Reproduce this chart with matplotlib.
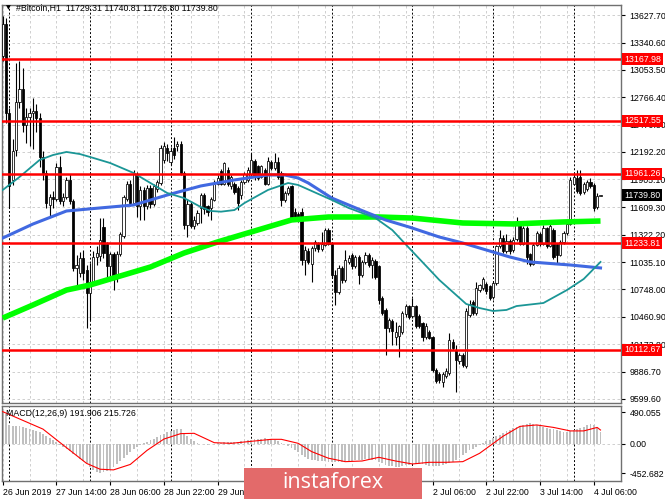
import matplotlib
matplotlib.use("Agg")
import matplotlib.pyplot as plt
import matplotlib.transforms as mtransforms
from matplotlib.patches import Rectangle

plt.rcParams["font.family"] = ["Liberation Sans", "DejaVu Sans"]

# hourly candles, 26 Jun 22:00 .. 4 Jul 08:00
opens = [13200, 13540, 12600, 11900, 12210, 12720, 12850, 12480, 12560, 12600,
         12620, 12550, 12140, 11970, 11640, 11720, 11700, 12030, 11680, 11720,
         11900, 11680, 10970, 10920, 11080, 10950, 10710, 10830, 11090, 11100,
         11400, 11230, 10990, 11120, 10870, 11120, 11310, 11700, 11860, 11660,
         11950, 11620, 11790, 11620, 11810, 11650, 11800, 11870, 12110, 12230,
         12090, 12230, 12250, 12280, 11970, 11430, 11650, 11410, 11450, 11600,
         11740, 11620, 11600, 11690, 11860, 11990, 11860, 12000, 11830, 11860,
         11810, 11740, 11880, 11900, 11960, 12100, 12040, 11930, 12000, 11860,
         12090, 12020, 12090, 11970, 11690, 11760, 11830, 11560, 11540, 11560,
         11060, 11150, 11020, 11180, 11230, 11170, 11220, 11370, 11230, 10900,
         10720, 10970, 10850, 11040, 11110, 10990, 11090, 10900, 11040, 11110,
         11000, 11050, 10990, 10660, 10530, 10340, 10420, 10250, 10260, 10300,
         10490, 10570, 10470, 10570, 10470, 10400, 10250, 10300, 10250, 9900,
         9860, 9780, 9840, 9870, 10200, 10110, 10000, 10060, 9940, 10480,
         10620, 10500, 10740, 10760, 10810, 10780, 10670, 10820, 11200, 11290,
         11150, 11260, 11160, 11280, 11420, 11230, 11390, 11120, 11020, 11220,
         11330, 11230, 11390, 11200, 11370, 11230, 11110, 11250, 11340, 11440,
         11860, 11920, 11930, 11770, 11800, 11880, 11850, 11610, 11729.31]
highs = [13620, 13600, 12650, 12330, 13130, 13150, 13070, 12650, 12650, 12760,
         12700, 12600, 12200, 12000, 11750, 11780, 12080, 12150, 11760, 11930,
         11960, 11700, 11110, 11140, 11160, 11000, 11030, 11150, 11200, 11500,
         11500, 11250, 11140, 11140, 11150, 11350, 11740, 11890, 11900, 12000,
         11980, 11830, 11820, 11840, 11840, 11860, 11900, 12270, 12300, 12280,
         12240, 12350, 12310, 12310, 11990, 11700, 11680, 11520, 11580, 11760,
         11760, 11640, 11720, 11900, 11950, 12010, 12090, 12030, 11950, 11880,
         11830, 11900, 11980, 12030, 12180, 12120, 12060, 12060, 12020, 12140,
         12110, 12178, 12140, 11990, 11780, 11830, 11850, 11600, 11560, 11600,
         11200, 11180, 11200, 11270, 11250, 11350, 11390, 11390, 11250, 10950,
         11000, 10990, 11160, 11110, 11130, 11110, 11110, 11060, 11145, 11130,
         11090, 11070, 11000, 10680, 10550, 10450, 10440, 10410, 10380, 10520,
         10600, 10590, 10655, 10590, 10490, 10410, 10400, 10320, 10260, 9920,
         9880, 9880, 9920, 10290, 10230, 10170, 10080, 10080, 10550, 10640,
         10640, 10830, 10810, 10880, 10830, 10790, 10840, 11220, 11370, 11320,
         11330, 11280, 11300, 11510, 11440, 11410, 11410, 11130, 11240, 11360,
         11350, 11430, 11400, 11440, 11390, 11240, 11270, 11360, 11460, 11930,
         11960, 12000, 12000, 11880, 11900, 11920, 11870, 11760, 11740.81]
lows = [13150, 12500, 11600, 11850, 12150, 12650, 12400, 12290, 12250, 12220,
        12400, 12030, 11900, 11600, 11510, 11600, 11680, 11650, 11620, 11700,
        11650, 10940, 10800, 10880, 10850, 10345, 10430, 10800, 11000, 11050,
        11080, 10880, 10890, 10740, 10830, 11100, 11290, 11680, 11620, 11640,
        11510, 11480, 11480, 11590, 11600, 11620, 11770, 11840, 12080, 12100,
        12050, 12120, 12200, 11950, 11380, 11300, 11390, 11380, 11420, 11450,
        11540, 11520, 11477, 11680, 11840, 11840, 11840, 11830, 11800, 11750,
        11580, 11700, 11860, 11880, 11940, 11900, 11900, 11920, 11840, 11840,
        12000, 12000, 11910, 11620, 11670, 11740, 11490, 11470, 11460, 11000,
        10900, 11020, 10830, 11150, 11140, 11150, 11200, 11210, 10870, 10590,
        10700, 10820, 10830, 11020, 10960, 10970, 10810, 10880, 11020, 10980,
        10870, 10860, 10600, 10480, 10060, 10300, 10160, 10160, 10040, 10280,
        10460, 10440, 10450, 10340, 10340, 10210, 10230, 10230, 9880, 9770,
        9770, 9727, 9820, 9850, 10110, 9675, 9970, 9930, 9920, 10460,
        10480, 10480, 10720, 10740, 10700, 10637, 10650, 10800, 11180, 11130,
        11130, 11120, 11140, 11260, 11210, 11220, 11020, 10990, 11000, 11200,
        11200, 11210, 11180, 11190, 11070, 11020, 11100, 11230, 11320, 11420,
        11840, 11760, 11740, 11750, 11780, 11810, 11570, 11590, 11726.80]
closes = [13540, 12600, 11830, 12200, 12720, 12850, 12480, 12560, 12600, 12620,
          12550, 12140, 11970, 11660, 11720, 11700, 12030, 11680, 11720, 11900,
          11680, 10970, 11000, 11080, 10920, 10710, 10830, 11090, 11130, 11270,
          11130, 10990, 11120, 10870, 11120, 11330, 11720, 11860, 11660, 11960,
          11620, 11790, 11620, 11810, 11650, 11830, 11880, 12230, 12250, 12180,
          12200, 12160, 12280, 11970, 11430, 11650, 11410, 11480, 11550, 11740,
          11590, 11560, 11700, 11860, 11920, 11860, 12080, 11860, 11930, 11770,
          11660, 11880, 11960, 12000, 12110, 11930, 11920, 12040, 11860, 12100,
          12020, 12090, 11930, 11690, 11760, 11810, 11510, 11500, 11490, 11060,
          11160, 11040, 11180, 11250, 11170, 11230, 11370, 11230, 10900, 10720,
          10970, 10850, 11060, 11080, 10990, 11090, 10900, 11040, 11110, 11000,
          11060, 10880, 10640, 10500, 10340, 10430, 10310, 10300, 10360, 10500,
          10570, 10460, 10570, 10360, 10360, 10250, 10360, 10240, 9900, 9790,
          9800, 9860, 9890, 10220, 10130, 10010, 10060, 9960, 10520, 10600,
          10500, 10760, 10790, 10860, 10730, 10660, 10820, 11200, 11290, 11150,
          11260, 11150, 11270, 11440, 11230, 11390, 11090, 11020, 11220, 11340,
          11230, 11390, 11200, 11410, 11090, 11110, 11250, 11340, 11440, 11900,
          11930, 11780, 11760, 11860, 11880, 11830, 11600, 11730, 11739.80]

# moving averages read at a few candles
ma_teal_idx = [0, 5, 11, 15, 19, 23, 27, 32, 39, 49, 54, 59, 62, 65, 69, 72, 79,
               85, 88, 98, 103, 111, 116, 121, 130, 138, 142, 146, 150, 153, 161,
               168, 173, 178]
ma_teal = [11792, 11929, 12108, 12160, 12192, 12170, 12129, 12076, 11971, 11761,
           11708, 11614, 11572, 11565, 11582, 11656, 11793, 11866, 11845, 11688,
           11604, 11498, 11372, 11184, 10848, 10596, 10553, 10522, 10533, 10574,
           10606, 10742, 10858, 11037]
ma_blue_idx = [0, 9, 19, 29, 39, 49, 59, 69, 79, 84, 88, 91, 98, 108, 114, 121,
               130, 137, 151, 157, 169, 178]
ma_blue = [11288, 11435, 11572, 11604, 11635, 11740, 11835, 11898, 11950, 11950,
           11918, 11866, 11708, 11562, 11478, 11404, 11299, 11236, 11089, 11037,
           11005, 10974]
ma_green_idx = [0, 9, 19, 26, 34, 44, 54, 64, 74, 86, 97, 112, 122, 137, 152, 167, 178]
ma_green = [10448, 10585, 10742, 10795, 10879, 10984, 11131, 11247, 11352, 11478,
            11509, 11509, 11498, 11446, 11436, 11457, 11467]

levels = [13167.98, 12517.55, 11961.26, 11233.81, 10112.67]
price_ticks = [13627.70, 13340.60, 13053.50, 12766.40, 12479.30, 12192.20, 11905.10,
               11609.30, 11322.20, 11035.10, 10748.00, 10460.90, 10173.80, 9886.70, 9599.60]

macd_hist = [490, 460, 300, 285, 280, 275, 265, 250, 235, 220,
             205, 185, 160, 130, 95, 60, 25, -15, -50, -85,
             -115, -150, -190, -230, -260, -300, -350, -400, -440, -452,
             -440, -420, -390, -350, -310, -265, -220, -170, -125, -85,
             -50, -20, 10, 35, 55, 80, 105, 135, 160, 180,
             200, 215, 225, 230, 170, 120, 70, 40, 15, 5,
             -5, -10, -5, 5, 15, 20, 25, 25, 30, 30,
             35, 40, 45, 55, 60, 70, 75, 80, 85, 80,
             70, 55, 40, 20, 0, -30, -60, -90, -130, -170,
             -200, -225, -240, -250, -258, -262, -265, -280, -285, -285,
             -280, -275, -270, -265, -258, -250, -245, -240, -238, -235,
             -240, -255, -275, -300, -320, -335, -345, -350, -348, -340,
             -330, -318, -310, -305, -310, -315, -330, -340, -345, -345,
             -340, -330, -315, -300, -280, -250, -215, -175, -135, -100,
             -70, -40, -10, 15, 40, 65, 95, 120, 145, 170,
             195, 220, 240, 260, 280, 300, 315, 320, 305, 290,
             275, 262, 250, 238, 225, 212, 200, 190, 185, 195,
             210, 230, 250, 270, 290, 305, 290, 250, 191.906]
signal_idx = [0, 12, 18, 25, 29, 33, 38, 43, 48, 53, 57, 63, 68, 73, 80, 83, 88,
              92, 97, 102, 107, 112, 117, 122, 127, 132, 137, 142, 149, 154, 159,
              164, 169, 173, 177, 178]
signal = [500, 230, -16, -300, -390, -400, -316, -98, 76, 160, 165, 20, 10, 36, 72,
          72, 10, -118, -220, -273, -263, -206, -263, -309, -283, -283, -273, -144,
          120, 272, 294, 256, 202, 202, 256, 215.726]

date_idx = list(range(0, 177, 16))
date_labels = ["26 Jun 2019", "27 Jun 14:00", "28 Jun 06:00", "28 Jun 22:00",
               "29 Jun 14:00", "30 Jun 06:00", "30 Jun 22:00", "1 Jul 14:00",
               "2 Jul 06:00", "2 Jul 22:00", "3 Jul 14:00", "4 Jul 06:00"]
day_sep_idx = list(range(2, 180, 24))

W, H = 665, 499
fs = 6.3
fig = plt.figure(figsize=(W / 100, H / 100), dpi=100)
fig.patch.set_facecolor("white")

ax = fig.add_axes([2 / W, 1 - 403 / H, 619 / W, 398 / H])
ax2 = fig.add_axes([2 / W, 1 - 481 / H, 619 / W, 75 / H])

xlim = (-0.2, 184.1)
grid_kw = dict(color="#c8c8c8", linewidth=0.6, linestyle=(0, (3, 3)), zorder=0)
for a in (ax, ax2):
    a.set_xlim(*xlim)
    for g in range(0, 185, 8):
        a.axvline(g, **grid_kw)
    for d in day_sep_idx:
        a.axvline(d, color="black", linewidth=0.7, linestyle=(0, (2, 2)), zorder=1)
    for s in a.spines.values():
        s.set_color("#707070")
        s.set_linewidth(1)

# candles
idx = list(range(len(closes)))
ax.vlines(idx, lows, highs, color="black", linewidth=0.8, zorder=3)
up = [c >= o for o, c in zip(opens, closes)]
bottoms = [min(o, c) for o, c in zip(opens, closes)]
heights = [max(abs(c - o), 8) for o, c in zip(opens, closes)]
ax.bar(idx, heights, bottom=bottoms, width=0.66,
       color=["white" if u else "black" for u in up],
       edgecolor="black", linewidth=0.55, zorder=4)

# moving averages
ax.plot(ma_green_idx, ma_green, color="#00ff00", linewidth=4, zorder=5,
        solid_capstyle="butt", solid_joinstyle="round")
ax.plot(ma_blue_idx, ma_blue, color="#4169e1", linewidth=2.2, zorder=6,
        solid_joinstyle="round")
ax.plot(ma_teal_idx, ma_teal, color="#1b9696", linewidth=1.3, zorder=6,
        solid_joinstyle="round")

# levels
lvl_tr = mtransforms.blended_transform_factory(ax.transAxes, ax.transData)
for lv in levels:
    ax.axhline(lv, color="#ff0000", linewidth=1.8, zorder=7)
ax.set_ylim(9556, 13735)
ax.set_yticks(price_ticks)
ax.set_yticklabels([f"{t:.2f}" for t in price_ticks])
ax.yaxis.tick_right()
ax.yaxis.grid(True, **grid_kw)
ax.tick_params(axis="y", labelsize=fs, length=3, pad=3, colors="black")
ax.tick_params(axis="x", bottom=False, labelbottom=False)

for lv in levels:
    ax.text(1.005, lv, f"{lv:.2f}", transform=lvl_tr, ha="left", va="center",
            fontsize=fs, color="white", zorder=10, clip_on=False,
            bbox=dict(boxstyle="square,pad=0.2", facecolor="#ff0000", edgecolor="none"))
ax.text(1.005, closes[-1], f"{closes[-1]:.2f}", transform=lvl_tr, ha="left", va="center",
        fontsize=fs, color="white", zorder=10, clip_on=False,
        bbox=dict(boxstyle="square,pad=0.2", facecolor="black", edgecolor="none"))

# MACD panel
ax2.bar(idx, macd_hist, width=0.55, color="#c0c0c0", zorder=2)
ax2.plot(signal_idx, signal, color="#ff0000", linewidth=0.8, zorder=3)
ax2.axhline(0, **grid_kw)
ax2.set_ylim(-572, 587)
ax2.set_yticks([490.055, 0, -452.682])
ax2.set_yticklabels(["490.055", "0.00", "-452.682"])
ax2.yaxis.tick_right()
ax2.tick_params(axis="y", labelsize=fs, length=3, pad=3)
ax2.set_xticks(date_idx)
ax2.set_xticklabels(date_labels, ha="left")
ax2.tick_params(axis="x", labelsize=fs, length=3, pad=2)
ax2.text(0.006, 0.9, "MACD(12,26,9) 191.906 215.726", transform=ax2.transAxes,
         fontsize=fs, ha="left", va="center", zorder=8)

# header
fig.text(8 / W, 1 - 8 / H, "\u25bc", fontsize=4.5, ha="center", va="center",
         family="DejaVu Sans")
fig.text(16 / W, 1 - 8 / H, "#Bitcoin,H1  11729.31 11740.81 11726.80 11739.80",
         fontsize=fs, ha="left", va="center")

# watermark
fig.patches.append(Rectangle((244 / W, 0), 178 / W, 31 / H, transform=fig.transFigure,
                             facecolor="#e36a6a", edgecolor="none", zorder=20))
fig.text(333 / W, 1 - 483 / H, "instaforex", fontsize=15.5, color="white",
         ha="center", va="center", zorder=21, family="Open Sans")

fig.savefig("out.png", dpi=100)
